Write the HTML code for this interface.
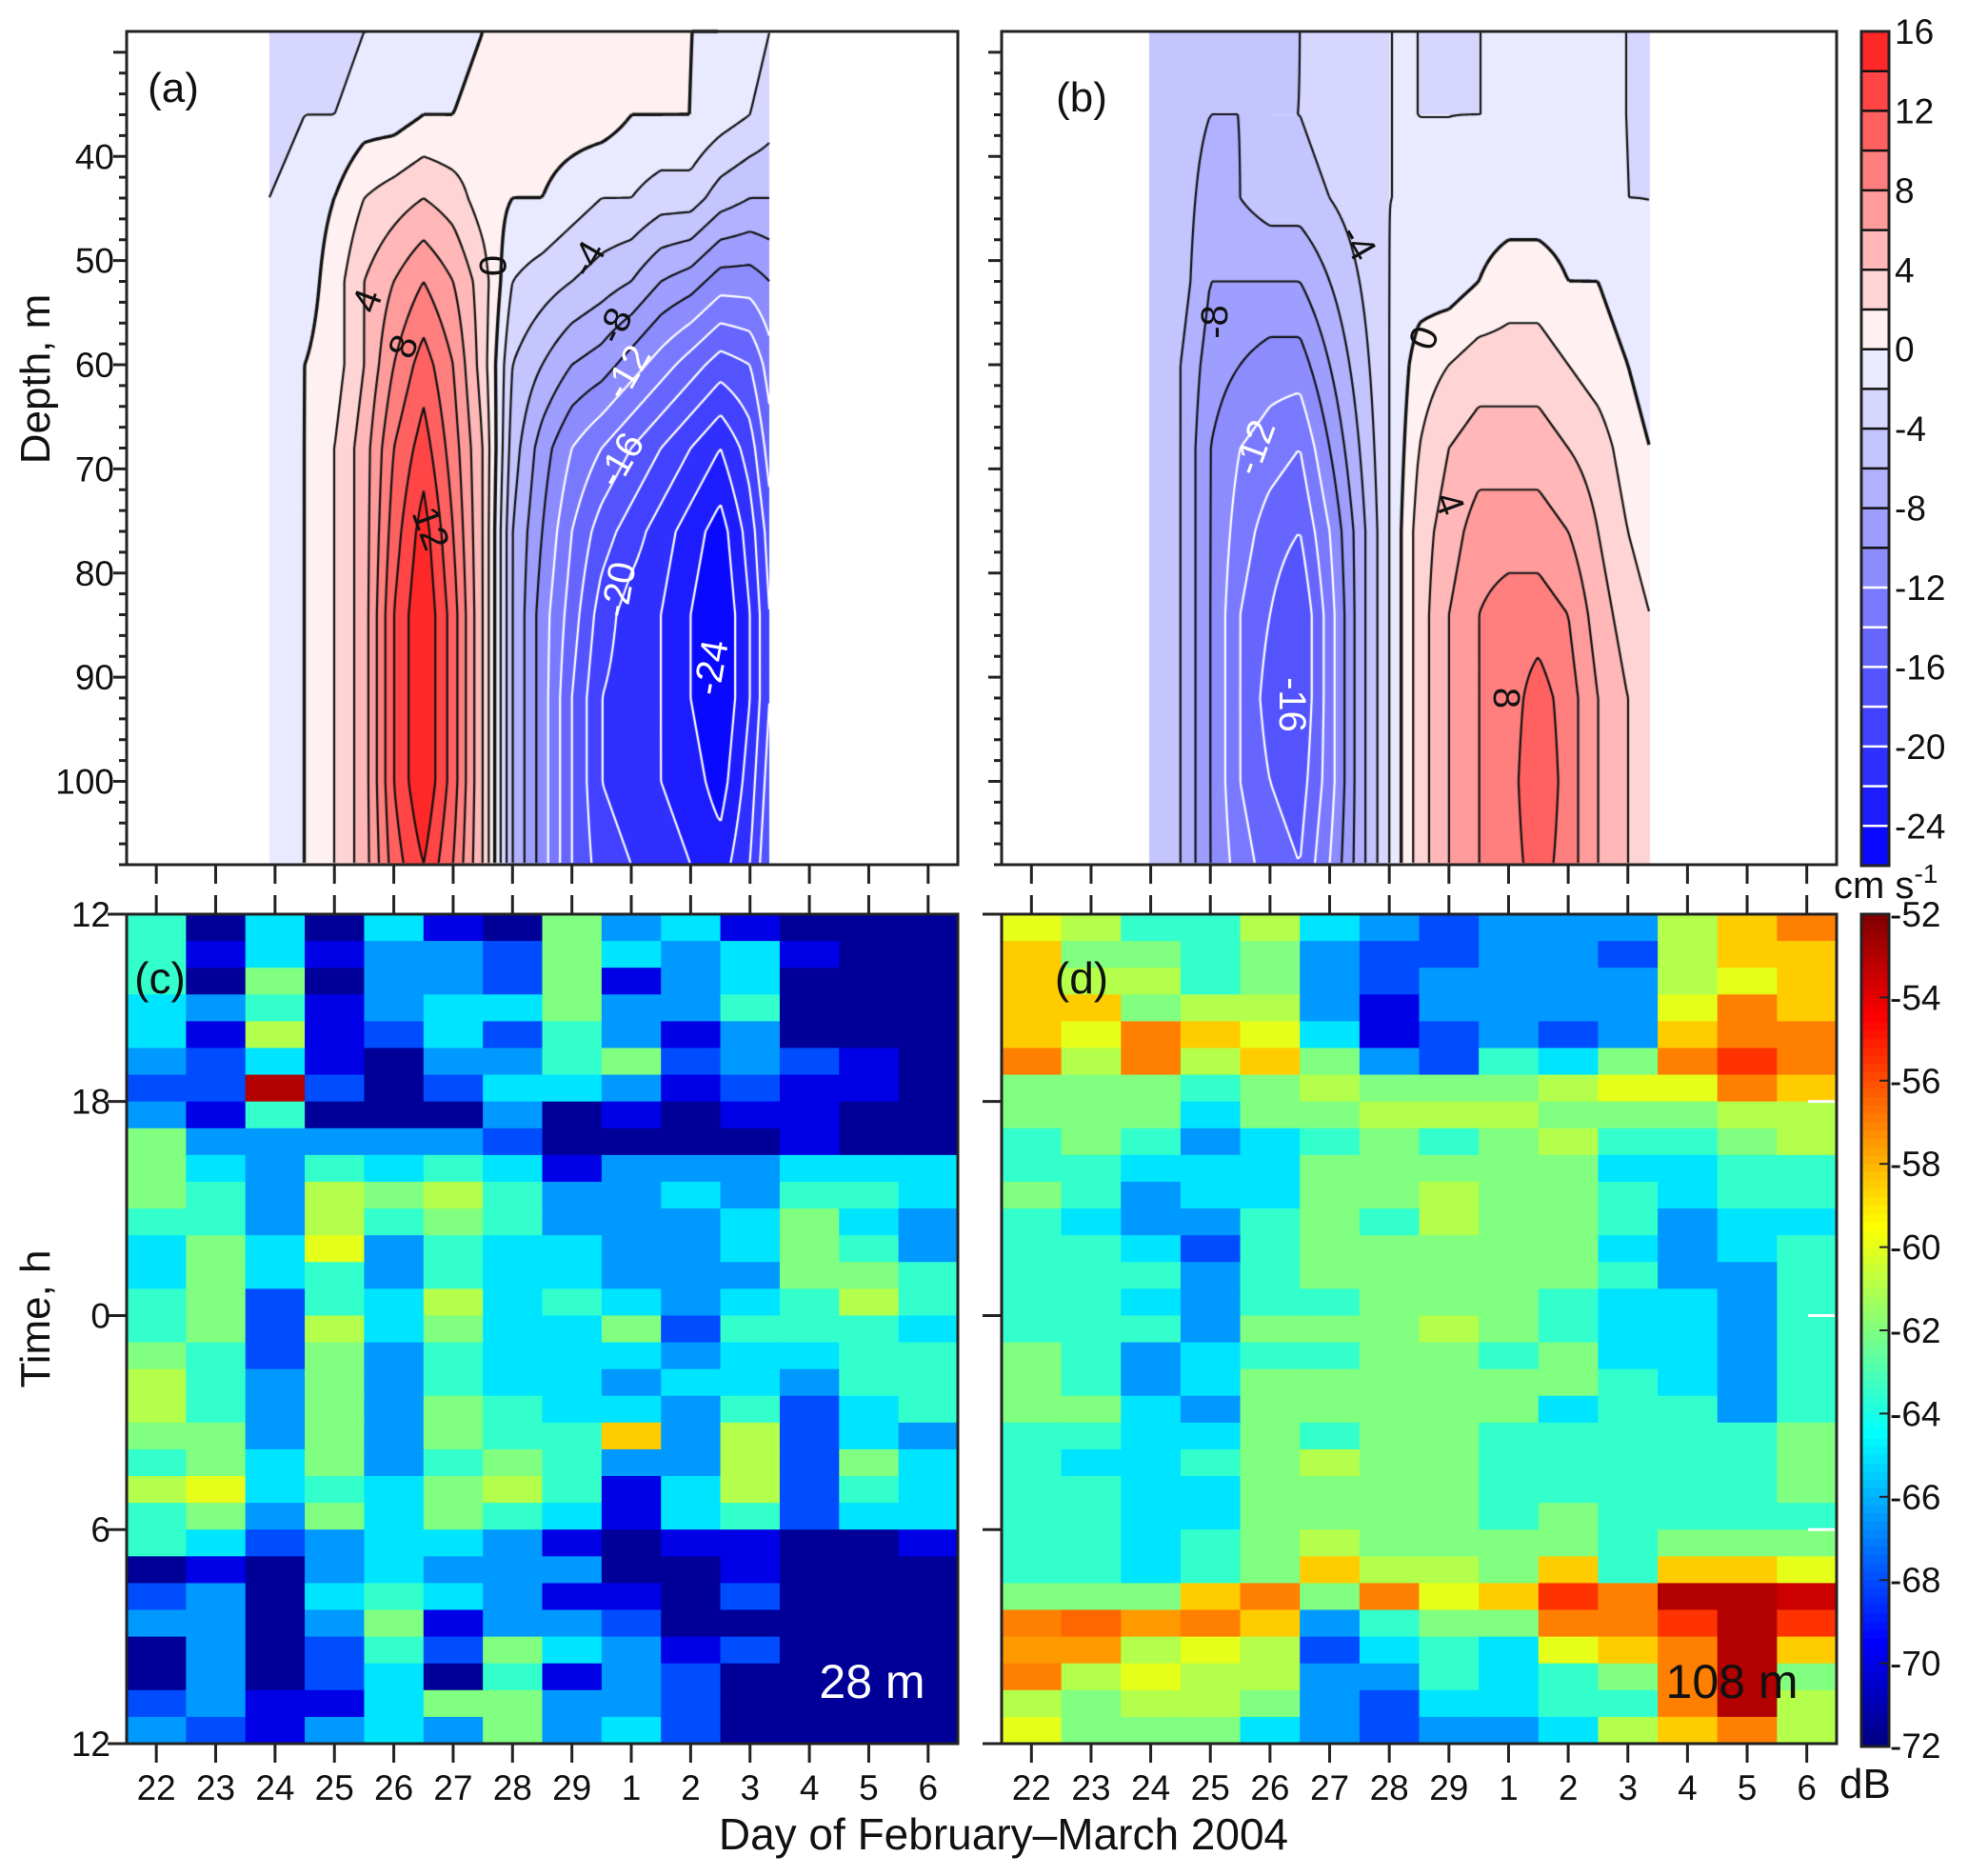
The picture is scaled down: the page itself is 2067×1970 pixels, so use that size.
<!DOCTYPE html>
<html><head><meta charset="utf-8">
<style>
html,body{margin:0;padding:0;background:#fff;}
#wrap{position:relative;width:2067px;height:1970px;overflow:hidden;font-family:"Liberation Sans",sans-serif;}
canvas,svg{position:absolute;left:0;top:0;}
</style></head>
<body>
<div id="wrap">
<canvas id="cv" width="2067" height="1970"></canvas>
<svg id="sv" width="2067" height="1970" xmlns="http://www.w3.org/2000/svg"></svg>
</div>
<script>
// ---------- data ----------
const dayLabels = ["22","23","24","25","26","27","28","29","1","2","3","4","5","6"];
const depthTicks = [40,50,60,70,80,90,100];
const timeTickLabels = ["12","18","0","6","12"];
const timeTickRows = [0,7,15,23,31];
const velBarTicks = [16,12,8,4,0,-4,-8,-12,-16,-20,-24];
const dbBarTicks = [-52,-54,-56,-58,-60,-62,-64,-66,-68,-70,-72];
const depthLevels = [28,36,44,52,60,68,76,84,92,100,108];
const xsA = [1.9,2.5,3,3.5,4,4.5,5,5.5,6,6.5,7,7.5,8,8.5,9,9.5,10,10.33];
const velA = [
[-3,-3,-2,-1,-1,-1,-1,-1,-1,-1,-1],
[-3,-2,-1,-1,0,0,0,0,0,0,0],
[-3,-2,0,1,1,2,2,2,2,2,2],
[-2,-1,2,4,4,5,5,5,5,5,5],
[-2,-1,3,6,8,10,11,12,12,12,11],
[-1,0,4,8,11,13,15,16,16,16,14],
[-1,0,3,6,8,9,10,11,11,11,10],
[0,1,1,3,3,4,4,4,4,4,4],
[2,1,0,-2,-4,-5,-6,-6,-6,-6,-6],
[2,1,0,-3,-6,-9,-10,-11,-11,-11,-11],
[1,1,-1,-4,-8,-12,-14,-15,-16,-16,-16],
[1,1,-2,-5,-9,-14,-17,-19,-20,-20,-19],
[1,0,-2,-6,-11,-16,-19,-21,-21,-21,-20],
[1,0,-3,-8,-13,-18,-21,-22,-22,-22,-21],
[0,0,-3,-9,-15,-20,-23,-24,-24,-23,-22],
[0,-1,-5,-11,-17,-22,-25,-26,-26,-25,-23],
[-1,-2,-6,-11,-16,-19,-21,-22,-22,-21,-20],
[-2,-3,-6,-10,-13,-15,-17,-18,-18,-17,-16]];
const xsB = [1.97,2.5,3,3.5,4,4.5,5,5.5,6,6.5,7,7.5,8,8.5,9,9.5,10,10.37];
const velB = [
[-4.5,-4.5,-4.5,-4.5,-4.5,-4.5,-4.5,-4.5,-4.5,-4.5,-4.5],
[-5,-5,-5,-5,-6,-6,-6,-6,-6,-6,-6],
[-6,-6,-7,-8,-9,-10,-10,-10,-10,-10,-10],
[-6,-6,-6,-8,-10,-12,-13,-14,-14,-14,-13],
[-5,-4,-5,-8,-11,-13,-15,-16,-17,-16,-15],
[-4,-4,-5,-8,-11,-14,-16,-18,-18,-17,-16],
[-3,-3,-4,-6,-8,-10,-12,-13,-13,-13,-12],
[-3,-3,-3,-4,-5,-6,-7,-7,-7,-7,-7],
[-2,-2,-2,-2,-2,-2,-2,-2,-2,-2,-2],
[-2,-2,-2,-1,1,2,3,3,3,3,3],
[-3,-2,-2,-1,2,4,5,6,6,6,6],
[-2,-2,-1,0,3,5,7,8,8,8,8],
[-2,-2,-1,1,3,5,7,9,9,9,9],
[-2,-2,-1,1,3,5,7,9,11,12,11],
[-2,-2,-1,0,2,4,6,8,9,9,9],
[-2,-2,-1,0,1,3,4,5,6,6,6],
[-2,-2,-2,-1,0,1,2,3,4,4,4],
[-3,-3,-2,-2,-1,0,1,2,3,3,3]];
const dbC = [
[-63.5,-71.5,-65,-71.5,-65,-70,-71.5,-62,-66.5,-65,-70,-71.5,-71.5,-71.5],
[-63.5,-70,-65,-70,-66.5,-66.5,-68,-62,-65,-66.5,-65,-70,-71.5,-71.5],
[-63.5,-71.5,-62,-71.5,-66.5,-66.5,-68,-62,-70,-66.5,-65,-71.5,-71.5,-71.5],
[-65,-66.5,-63.5,-70,-66.5,-65,-65,-62,-66.5,-66.5,-63.5,-71.5,-71.5,-71.5],
[-65,-70,-61,-70,-68,-65,-68,-63.5,-66.5,-70,-66.5,-71.5,-71.5,-71.5],
[-66.5,-68,-65,-70,-71.5,-66.5,-66.5,-63.5,-62,-68,-66.5,-68,-70,-71.5],
[-68,-68,-53,-68,-71.5,-68,-65,-65,-66.5,-70,-68,-70,-70,-71.5],
[-66.5,-70,-63.5,-71.5,-71.5,-71.5,-66.5,-71.5,-70,-71.5,-70,-70,-71.5,-71.5],
[-62,-66.5,-66.5,-66.5,-66.5,-66.5,-68,-71.5,-71.5,-71.5,-71.5,-70,-71.5,-71.5],
[-62,-65,-66.5,-63.5,-65,-63.5,-65,-70,-66.5,-66.5,-66.5,-65,-65,-65],
[-62,-63.5,-66.5,-61,-62,-61,-63.5,-66.5,-66.5,-65,-66.5,-63.5,-63.5,-65],
[-63.5,-63.5,-66.5,-61,-63.5,-62,-63.5,-66.5,-66.5,-66.5,-65,-62,-65,-66.5],
[-65,-62,-65,-60,-66.5,-63.5,-65,-65,-66.5,-66.5,-65,-62,-63.5,-66.5],
[-65,-62,-65,-63.5,-66.5,-63.5,-65,-65,-66.5,-66.5,-66.5,-62,-62,-63.5],
[-63.5,-62,-68,-63.5,-65,-61,-65,-63.5,-65,-66.5,-65,-63.5,-61,-63.5],
[-63.5,-62,-68,-61,-65,-62,-65,-65,-62,-68,-63.5,-63.5,-63.5,-65],
[-62,-63.5,-68,-62,-66.5,-63.5,-65,-65,-65,-66.5,-65,-65,-63.5,-63.5],
[-61,-63.5,-66.5,-62,-66.5,-63.5,-65,-65,-66.5,-65,-65,-66.5,-63.5,-63.5],
[-61,-63.5,-66.5,-62,-66.5,-62,-63.5,-65,-65,-66.5,-63.5,-68,-65,-63.5],
[-62,-62,-66.5,-62,-66.5,-62,-63.5,-63.5,-58.5,-66.5,-61,-68,-65,-66.5],
[-63.5,-62,-65,-62,-66.5,-63.5,-62,-63.5,-66.5,-66.5,-61,-68,-62,-65],
[-61,-60,-65,-63.5,-65,-62,-61,-63.5,-70,-65,-61,-68,-63.5,-65],
[-63.5,-62,-66.5,-62,-65,-62,-63.5,-65,-70,-65,-63.5,-68,-65,-65],
[-63.5,-65,-68,-66.5,-65,-65,-66.5,-70,-71.5,-70,-70,-71.5,-71.5,-70],
[-71.5,-70,-71.5,-66.5,-65,-66.5,-66.5,-66.5,-71.5,-71.5,-70,-71.5,-71.5,-71.5],
[-68,-66.5,-71.5,-65,-63.5,-65,-66.5,-70,-70,-71.5,-68,-71.5,-71.5,-71.5],
[-66.5,-66.5,-71.5,-66.5,-62,-70,-66.5,-66.5,-68,-71.5,-71.5,-71.5,-71.5,-71.5],
[-71.5,-66.5,-71.5,-68,-63.5,-68,-62,-65,-66.5,-70,-68,-71.5,-71.5,-71.5],
[-71.5,-66.5,-71.5,-68,-65,-71.5,-63.5,-70,-66.5,-68,-71.5,-71.5,-71.5,-71.5],
[-68,-66.5,-70,-70,-65,-62,-62,-66.5,-66.5,-68,-71.5,-71.5,-71.5,-71.5],
[-66.5,-68,-70,-66.5,-65,-66.5,-62,-66.5,-65,-68,-71.5,-71.5,-71.5,-71.5]];
const dbD = [
[-60,-61,-63.5,-63.5,-61,-65,-66.5,-68,-66.5,-66.5,-66.5,-61,-58.5,-57],
[-58.5,-62,-62,-63.5,-62,-66.5,-68,-68,-66.5,-66.5,-68,-61,-58.5,-58.5],
[-58.5,-61,-61,-63.5,-62,-66.5,-68,-66.5,-66.5,-66.5,-66.5,-61,-60,-58.5],
[-58.5,-58.5,-62,-61,-61,-66.5,-70,-66.5,-66.5,-66.5,-66.5,-60,-57,-58.5],
[-58.5,-60,-57,-58.5,-60,-65,-70,-68,-66.5,-68,-66.5,-58.5,-57,-57],
[-57,-61,-57,-61,-58.5,-62,-66.5,-68,-63.5,-65,-62,-57,-55.5,-57],
[-62,-62,-62,-63.5,-62,-61,-62,-62,-62,-61,-60,-60,-57,-58.5],
[-62,-62,-62,-65,-62,-62,-61,-61,-61,-62,-62,-62,-61,-61],
[-63.5,-62,-63.5,-66.5,-65,-63.5,-62,-63.5,-62,-61,-63.5,-63.5,-62,-61],
[-63.5,-63.5,-65,-65,-65,-62,-62,-62,-62,-62,-65,-65,-63.5,-63.5],
[-62,-63.5,-66.5,-65,-65,-62,-62,-61,-62,-62,-63.5,-65,-63.5,-63.5],
[-63.5,-65,-66.5,-66.5,-63.5,-62,-63.5,-61,-62,-62,-63.5,-66.5,-65,-65],
[-63.5,-63.5,-65,-68,-63.5,-62,-62,-62,-62,-62,-65,-66.5,-65,-63.5],
[-63.5,-63.5,-63.5,-66.5,-63.5,-62,-62,-62,-62,-62,-63.5,-66.5,-66.5,-63.5],
[-63.5,-63.5,-65,-66.5,-63.5,-63.5,-62,-62,-62,-63.5,-65,-65,-66.5,-63.5],
[-63.5,-63.5,-63.5,-66.5,-62,-62,-62,-61,-62,-63.5,-65,-65,-66.5,-63.5],
[-62,-63.5,-66.5,-65,-63.5,-63.5,-62,-62,-63.5,-62,-65,-65,-66.5,-63.5],
[-62,-63.5,-66.5,-65,-62,-62,-62,-62,-62,-62,-63.5,-65,-66.5,-63.5],
[-62,-62,-65,-66.5,-62,-62,-62,-62,-62,-65,-63.5,-63.5,-66.5,-63.5],
[-63.5,-63.5,-65,-65,-62,-63.5,-62,-62,-63.5,-63.5,-63.5,-63.5,-63.5,-62],
[-63.5,-65,-65,-63.5,-62,-61,-62,-62,-63.5,-63.5,-63.5,-63.5,-63.5,-62],
[-63.5,-63.5,-65,-65,-62,-62,-62,-62,-63.5,-63.5,-63.5,-63.5,-63.5,-62],
[-63.5,-63.5,-65,-65,-62,-62,-62,-62,-63.5,-62,-63.5,-63.5,-63.5,-63.5],
[-63.5,-63.5,-65,-63.5,-62,-61,-62,-62,-62,-62,-63.5,-62,-62,-62],
[-63.5,-63.5,-65,-63.5,-62,-58.5,-61,-61,-62,-58.5,-63.5,-58.5,-58.5,-60],
[-62,-62,-62,-58.5,-57,-62,-57,-60,-58.5,-55.5,-57,-53,-53,-53.5],
[-57,-56.5,-57.5,-57,-58.5,-66.5,-63.5,-62,-62,-57,-57,-55.5,-53,-55.5],
[-57.5,-57.5,-61,-60,-61,-68,-65,-63.5,-65,-60,-58.5,-57,-53,-58.5],
[-57,-61,-60,-61,-61,-66.5,-66.5,-63.5,-65,-63.5,-62,-57,-53,-62],
[-61,-62,-61,-61,-62,-66.5,-68,-65,-65,-63.5,-63.5,-57,-53,-61],
[-60,-62,-62,-62,-65,-66.5,-68,-66.5,-66.5,-65,-61,-58.5,-57,-61]];

// ---------- layout ----------
const PA = {x0:133,x1:1006,y0:33,y1:908};
const PB = {x0:1052,x1:1929,y0:33,y1:908};
const PC = {x0:133,x1:1006,y0:960,y1:1831};
const PD = {x0:1052,x1:1929,y0:960,y1:1831};
const CB1 = {x0:1955,x1:1984,y0:33,y1:909};
const CB2 = {x0:1955,x1:1984,y0:960,y1:1834};
const NS = "http://www.w3.org/2000/svg";
const svg = document.getElementById('sv');
const ctx = document.getElementById('cv').getContext('2d');

function xDay(P,i){return P.x0+(i+0.5)*(P.x1-P.x0)/14;}
function yDepth(P,d){return P.y0+(d-28)/80*(P.y1-P.y0);}
function yRow(P,r){return P.y0+r*(P.y1-P.y0)/31;}
function el(tag,attrs,parent){const e=document.createElementNS(NS,tag);for(const k in attrs)e.setAttribute(k,attrs[k]);(parent||svg).appendChild(e);return e;}
function txt(s,x,y,size,anchor,fill,extra){const t=el('text',Object.assign({x:x,y:y,'font-size':size,'text-anchor':anchor||'middle',fill:fill||'#111','font-family':'Liberation Sans, sans-serif'},extra||{}));t.textContent=s;return t;}

function velColor(v){
  let c=Math.floor(v/2)*2+1; c=Math.max(-25,Math.min(15,c));
  if(c>0){const t=c/16;const g=Math.round(255*(1-0.9*t));return [255,g,g];}
  const t=-c/26;const g=Math.round(255*(1-(0.05+0.95*t)));return [g,g,255];
}
function jet(v){
  const t=Math.max(0,Math.min(1,(v+72)/20));
  const f=x=>Math.round(255*Math.max(0,Math.min(1,x)));
  return 'rgb('+f(1.5-Math.abs(4*t-3))+','+f(1.5-Math.abs(4*t-2))+','+f(1.5-Math.abs(4*t-1))+')';
}
function sampleVel(xs,vals,xi,d){
  let k=0; while(k<xs.length-2 && xi>xs[k+1]) k++;
  let tx=(xi-xs[k])/(xs[k+1]-xs[k]); tx=Math.max(0,Math.min(1,tx));
  let j=Math.floor((d-28)/8); j=Math.max(0,Math.min(depthLevels.length-2,j));
  let ty=(d-depthLevels[j])/8; ty=Math.max(0,Math.min(1,ty));
  const a=vals[k][j]*(1-ty)+vals[k][j+1]*ty;
  const b=vals[k+1][j]*(1-ty)+vals[k+1][j+1]*ty;
  return a*(1-tx)+b*tx;
}
function xInv(P,px){return (px-P.x0)/((P.x1-P.x0)/14)-0.5;}
function dInv(P,py){return 28+(py-P.y0)/(P.y1-P.y0)*80;}

function drawContour(P,xs,vals){
  const xa=Math.round(xDay(P,xs[0])), xb=Math.round(xDay(P,xs[xs.length-1]));
  const w=xb-xa, h=P.y1-P.y0;
  const img=ctx.createImageData(w,h);
  for(let py=0;py<h;py++){const d=dInv(P,P.y0+py+0.5);
    for(let px=0;px<w;px++){const v=sampleVel(xs,vals,xInv(P,xa+px+0.5),d);const c=velColor(v);const o=(py*w+px)*4;
      img.data[o]=c[0];img.data[o+1]=c[1];img.data[o+2]=c[2];img.data[o+3]=255;}}
  ctx.putImageData(img,xa,P.y0);
  const st=3, nx=Math.floor(w/st), ny=Math.floor(h/st);
  const G=[];
  for(let j=0;j<=ny;j++){G[j]=[];const d=dInv(P,P.y0+j*st);for(let i=0;i<=nx;i++)G[j][i]=sampleVel(xs,vals,xInv(P,xa+i*st),d);}
  for(let L=-24;L<=16;L+=2){
    ctx.beginPath();
    ctx.strokeStyle=L<=-12?'#ffffff':'#111111';
    ctx.lineWidth=L===0?3.4:2.2;
    for(let j=0;j<ny;j++)for(let i=0;i<nx;i++){
      const v0=G[j][i],v1=G[j][i+1],v2=G[j+1][i+1],v3=G[j+1][i];
      const pts=[];
      const X=i*st+xa, Y=j*st+P.y0;
      const ed=(a,b,ax,ay,bx,by)=>{if((a<L)!==(b<L)){const t=(L-a)/(b-a);pts.push([ax+(bx-ax)*t,ay+(by-ay)*t]);}};
      ed(v0,v1,X,Y,X+st,Y);ed(v1,v2,X+st,Y,X+st,Y+st);ed(v3,v2,X,Y+st,X+st,Y+st);ed(v0,v3,X,Y,X,Y+st);
      if(pts.length>=2){ctx.moveTo(pts[0][0],pts[0][1]);ctx.lineTo(pts[1][0],pts[1][1]);}
      if(pts.length===4){ctx.moveTo(pts[2][0],pts[2][1]);ctx.lineTo(pts[3][0],pts[3][1]);}
    }
    ctx.stroke();
  }
}
drawContour(PA,xsA,velA);
drawContour(PB,xsB,velB);

function drawHeat(P,data,name){
  const g=el('g',{});
  
  
  const cw=(P.x1-P.x0)/14;
  data.forEach((row,r)=>row.forEach((v,c)=>{
    const rc=el('rect',{x:(P.x0+c*cw).toFixed(2),y:yRow(P,r).toFixed(2),width:(cw+0.6).toFixed(2),height:(yRow(P,1)-P.y0+0.6).toFixed(2),fill:jet(v)},g);
    
    
  }));
}
drawHeat(PC,dbC,'heatmap-28m');
drawHeat(PD,dbD,'heatmap-108m');

function frame(P,name){const r=el('rect',{x:P.x0,y:P.y0,width:P.x1-P.x0,height:P.y1-P.y0,fill:'none',stroke:'#222','stroke-width':3});
  }
frame(PA,'panel-a-frame');frame(PB,'panel-b-frame');frame(PC,'panel-c-frame');frame(PD,'panel-d-frame');
const tk={stroke:'#222','stroke-width':3};
[PA,PB].forEach((P,pi)=>{
  for(let d=30;d<=108;d+=2){const y=yDepth(P,d);const major=(d%10===0);
    el('line',Object.assign({x1:P.x0-(major?14:8),x2:P.x0,y1:y,y2:y},tk));}
  dayLabels.forEach((s,i)=>el('line',Object.assign({x1:xDay(P,i),x2:xDay(P,i),y1:P.y1,y2:P.y1+20},tk)));
  if(pi===0) depthTicks.forEach(d=>{const t=txt(String(d),120,yDepth(P,d)+13,37,'end');
    });
});
[PC,PD].forEach((P,pi)=>{
  dayLabels.forEach((s,i)=>{
    el('line',Object.assign({x1:xDay(P,i),x2:xDay(P,i),y1:P.y0-20,y2:P.y0},tk));
    el('line',Object.assign({x1:xDay(P,i),x2:xDay(P,i),y1:P.y1,y2:P.y1+20},tk));
    const t=txt(s,xDay(P,i),1890,37,'middle');
    
  });
  timeTickRows.forEach((r,k)=>{const y=yRow(P,r);
    el('line',Object.assign({x1:P.x0-20,x2:P.x0,y1:y,y2:y},tk));
    if(pi===0){const t=txt(timeTickLabels[k],116,y+13,37,'end');
      }
    else if(r>0&&r<31){el('line',{x1:P.x1-30,x2:P.x1-2,y1:y,y2:y,stroke:'#fff','stroke-width':3});}
  });
});

(function(){
  const n=21,h=(CB1.y1-CB1.y0)/n;
  for(let k=0;k<n;k++){const v=15-2*k;const c=velColor(v);
    el('rect',{x:CB1.x0,y:CB1.y0+k*h,width:CB1.x1-CB1.x0,height:h+0.5,fill:'rgb('+c.join(',')+')'});
    if(k>0)el('line',{x1:CB1.x0,x2:CB1.x1,y1:CB1.y0+k*h,y2:CB1.y0+k*h,stroke:(16-2*k)<=-12?'#fff':'#111','stroke-width':2.5});}
  el('rect',{x:CB1.x0,y:CB1.y0,width:CB1.x1-CB1.x0,height:CB1.y1-CB1.y0,fill:'none',stroke:'#222','stroke-width':3});
  velBarTicks.forEach(v=>{const t=txt(String(v),1990,CB1.y0+(16-v)/42*(CB1.y1-CB1.y0)+13,37,'start');
    });
  const m=100,h2=(CB2.y1-CB2.y0)/m;
  for(let k=0;k<m;k++){const v=-52-(k+0.5)*20/m;el('rect',{x:CB2.x0,y:CB2.y0+k*h2,width:CB2.x1-CB2.x0,height:h2+0.6,fill:jet(v)});}
  el('rect',{x:CB2.x0,y:CB2.y0,width:CB2.x1-CB2.x0,height:CB2.y1-CB2.y0,fill:'none',stroke:'#222','stroke-width':3});
  dbBarTicks.forEach(v=>{const y=CB2.y0+(-52-v)/20*(CB2.y1-CB2.y0);
    if(v>-72&&v<-52)el('line',{x1:CB2.x1-10,x2:CB2.x1,y1:y,y2:y,stroke:'#222','stroke-width':2});
    const t=txt(String(v),1985,y+(v===-72?12:13),37,'start');
    });
})();

const clab=[
 ['4',386,316,-70,'#111'],['8',424,364,-70,'#111'],['12',452,555,70,'#111'],['0',517,279,90,'#111'],
 ['-4',617,272,-60,'#111'],['-8',646,342,-65,'#111'],['-12',659,391,-60,'#fff'],['-16',652,483,-60,'#fff'],
 ['-20',650,619,-80,'#fff'],['-24',747,701,-80,'#fff'],
 ['-8',1276,338,-90,'#111'],['-4',1426,255,60,'#111'],['0',1496,355,-70,'#111'],['-12',1318,470,-70,'#fff'],
 ['4',1522,529,70,'#111'],['-16',1357,740,90,'#fff'],['8',1582,733,90,'#111']];
clab.forEach(c=>{const t=txt(c[0],c[1],c[2]+13,40,'middle',c[4],{transform:'rotate('+c[3]+' '+c[1]+' '+c[2]+')'});
  });

let t;
t=txt('(a)',182,107,44,'middle');
t=txt('(b)',1136,117,44,'middle');
t=txt('(c)',168,1043,46,'middle');
t=txt('(d)',1136,1043,46,'middle');
t=txt('28 m',916,1783,50,'middle','#fff');
t=txt('108 m',1819,1783,50,'middle','#111');
t=txt('Depth, m',52,398,44,'middle','#111',{transform:'rotate(-90 52 398)'});
t=txt('Time, h',52,1385,44,'middle','#111',{transform:'rotate(-90 52 1385)'});
t=txt('Day of February\u2013March 2004',1054,1942,46,'middle');
t=txt('cm s',1926,943,40,'start');
const sup=el('tspan',{dy:-16,'font-size':28});sup.textContent='-1';t.appendChild(sup);
t=txt('dB',1932,1888,44,'start');
</script>
</body></html>
